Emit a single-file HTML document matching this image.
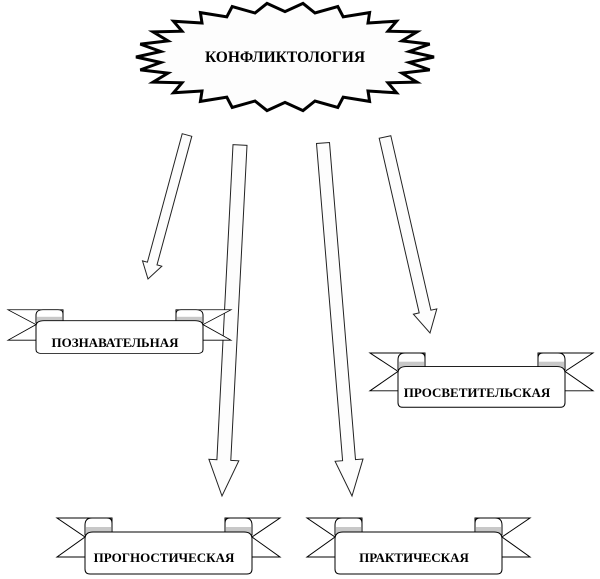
<!DOCTYPE html>
<html><head><meta charset="utf-8"><style>
html,body{margin:0;padding:0;background:#fff}
svg{display:block}
text{font-family:"Liberation Serif",serif;font-weight:bold;fill:#000}
</style></head><body>
<svg id="s" width="600" height="579" viewBox="0 0 600 579" xmlns="http://www.w3.org/2000/svg">
<defs>
<g id="ban">
  <polygon points="0,1 55,1 55,40 0,40 28,20" fill="#fff" stroke="#000" stroke-width="1"/>
  <polygon points="223,1 168,1 168,40 223,40 195,20" fill="#fff" stroke="#000" stroke-width="1"/>
  <path d="M28,8 Q28,1 35,1 L50,1 Q55,1 55,6 L55,18 L28,18 Z" fill="#fff" stroke="#000"/>
  <rect x="29" y="10" width="25" height="8" fill="#c8c8c8"/>
  <path d="M168,6 Q168,1 173,1 L188,1 Q195,1 195,8 L195,18 L168,18 Z" fill="#fff" stroke="#000"/>
  <rect x="169" y="10" width="25" height="8" fill="#c8c8c8"/>
  <path d="M28,22 Q28,15 36,15 L187,15 Q195,15 195,22 L195,52 Q195,57 190,57 L33,57 Q28,57 28,52 Z" fill="#fff" stroke="#000"/>
</g>
</defs>
<polygon id="star" fill="#fdfdfd" stroke="#000" stroke-width="3" stroke-linejoin="miter"/>
<text x="285" y="62" font-size="15.5" text-anchor="middle">КОНФЛИКТОЛОГИЯ</text>
<g id="arrows" fill="#fdfdfd" stroke="#222" stroke-width="1"></g>
<use href="#ban" transform="translate(8,309) scale(1,0.78)"/>
<text x="115" y="347" font-size="13" text-anchor="middle">ПОЗНАВАТЕЛЬНАЯ</text>
<use href="#ban" transform="translate(370,352) scale(1,0.97)"/>
<text x="477" y="397" font-size="13" text-anchor="middle">ПРОСВЕТИТЕЛЬСКАЯ</text>
<use href="#ban" x="57" y="517"/>
<text x="164" y="562" font-size="13" text-anchor="middle">ПРОГНОСТИЧЕСКАЯ</text>
<use href="#ban" x="307" y="517"/>
<text x="414" y="562" font-size="13" text-anchor="middle">ПРАКТИЧЕСКАЯ</text>
</svg>
<script>
(function(){
var cx=285,cy=57,n=26,pts=[];
for(var i=0;i<n*2;i++){var a=i*Math.PI/n;var r=(i%2==0)?1:0.84;
pts.push((cx+149*r*Math.cos(a)).toFixed(1)+","+(cy+54*r*Math.sin(a)).toFixed(1));}
document.getElementById('star').setAttribute('points',pts.join(' '));
function arrow(x1,y1,x2,y2,sw,hw,hl){
var dx=x2-x1,dy=y2-y1,L=Math.hypot(dx,dy),ux=dx/L,uy=dy/L,px=-uy,py=ux;
var bx=x2-ux*hl,by=y2-uy*hl;
var p=[[x1+px*sw/2,y1+py*sw/2],[bx+px*sw/2,by+py*sw/2],[bx+px*hw/2,by+py*hw/2],[x2,y2],
[bx-px*hw/2,by-py*hw/2],[bx-px*sw/2,by-py*sw/2],[x1-px*sw/2,y1-py*sw/2]];
var e=document.createElementNS('http://www.w3.org/2000/svg','polygon');
e.setAttribute('points',p.map(function(q){return q[0].toFixed(1)+','+q[1].toFixed(1)}).join(' '));
document.getElementById('arrows').appendChild(e);}
arrow(187,135,148,279,10,20,16);
arrow(240,145,222,496,14,30,36);
arrow(323,143,352,496,13,28,36);
arrow(385,137,430,333,12,24,22);
})();
</script>
</body></html>
